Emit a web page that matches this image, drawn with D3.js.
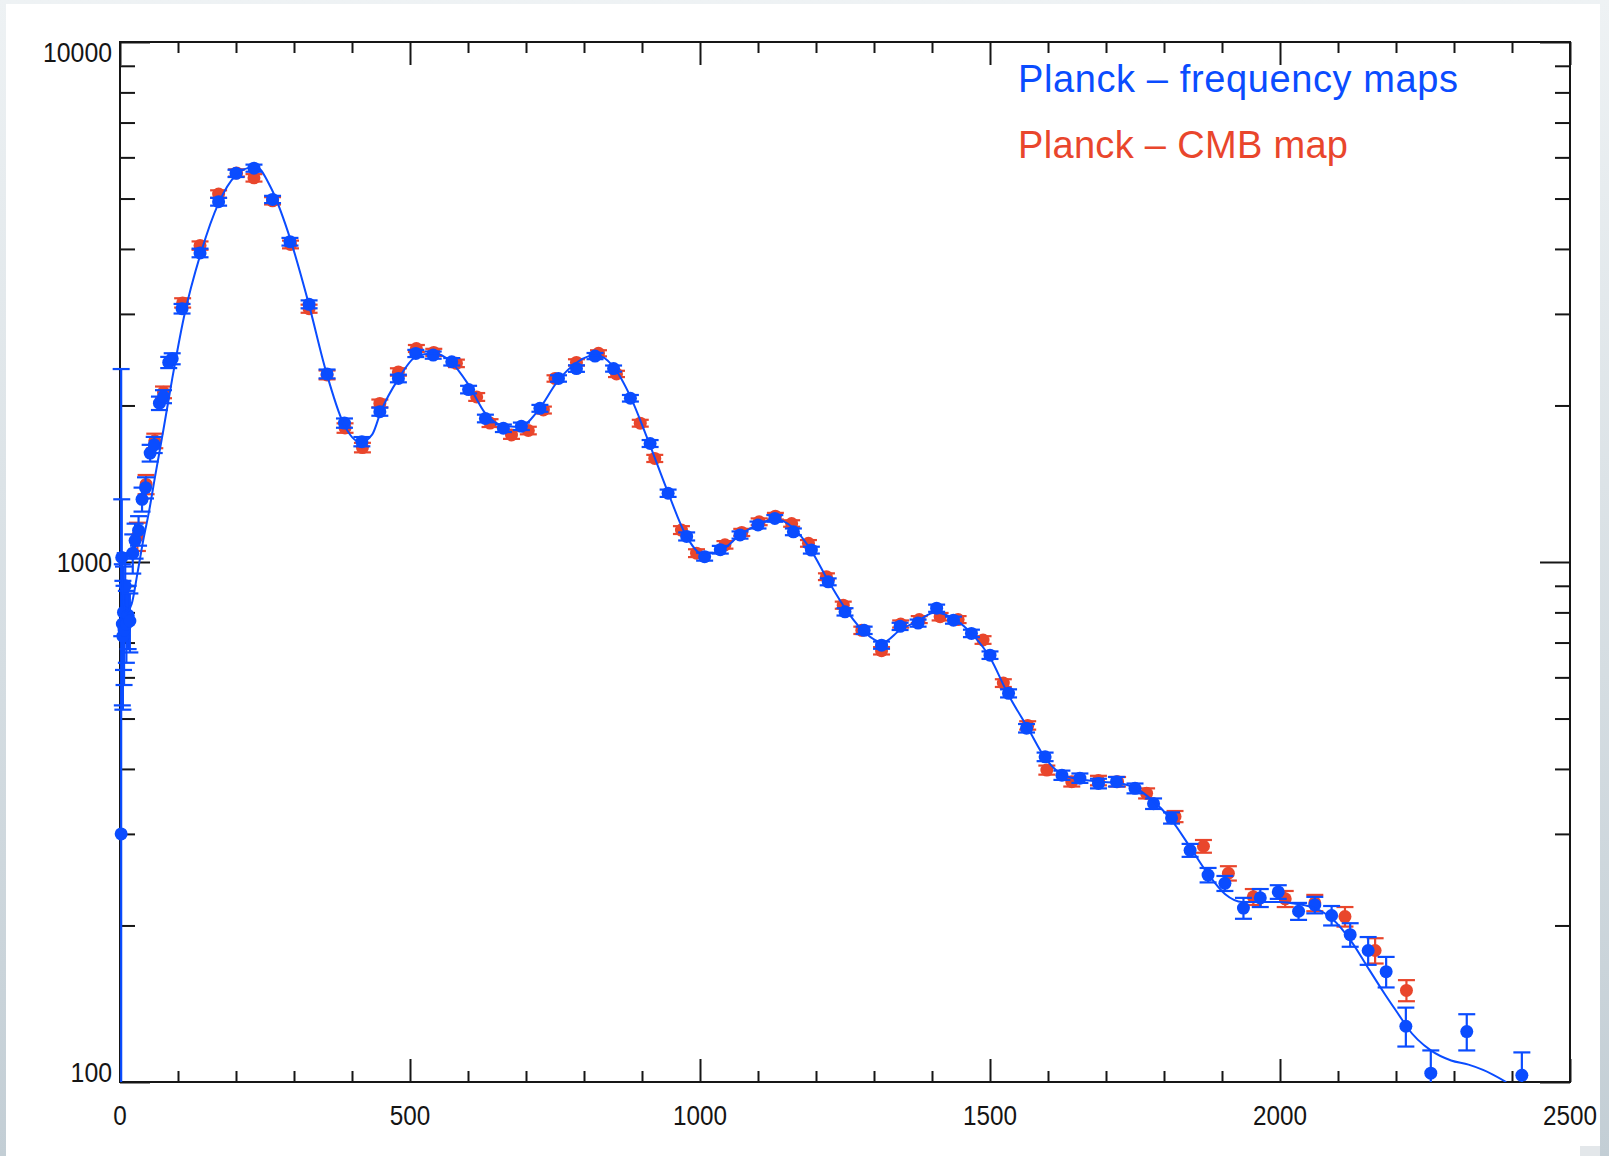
<!DOCTYPE html>
<html>
<head>
<meta charset="utf-8">
<script src="https://cdn.jsdelivr.net/npm/d3@7"></script>
<style>
  html, body { margin: 0; padding: 0; }
  body { width: 1609px; height: 1156px; overflow: hidden; background: linear-gradient(#eef2f4, #c3ced5); }
  svg { display: block; }
  .axis path { display: none; }
  .axis line { stroke: #161616; stroke-width: 2; }
  .lab { font-family: "Liberation Sans", Arial, sans-serif; fill: #151515; }
</style>
</head>
<body>
<svg id="chart"></svg>
<script>
// Planck frequency-map power spectrum (multipole, D_l, 1-sigma)
var freqEll = [2, 3, 4, 5, 6, 7, 9, 11, 14, 17, 22, 26, 32, 38, 44, 52, 59, 68, 75, 84, 90,
  107, 138, 170, 200, 231, 263, 293, 326, 357, 387, 417, 448, 480, 510, 540, 572, 601, 630,
  661, 692, 724, 756, 787, 819, 851, 880, 914, 945, 977, 1008, 1035, 1069, 1100, 1129, 1161,
  1192, 1221, 1250, 1283, 1313, 1345, 1376, 1408, 1437, 1468, 1500, 1532, 1563, 1595, 1624,
  1655, 1687, 1718, 1750, 1782, 1813, 1845, 1876, 1905, 1937, 1966, 1997, 2032, 2060, 2089,
  2121, 2152, 2183, 2217, 2260, 2322, 2417];
var freqDl = [300, 1020, 760, 720, 800, 740, 900, 760, 790, 770, 1040, 1100, 1150, 1320, 1390,
  1620, 1680, 2020, 2080, 2420, 2460,
  3070, 3930, 4930, 5590, 5720, 4980, 4130, 3130, 2300, 1850, 1704, 1946, 2254, 2518, 2500,
  2427, 2146, 1888, 1808, 1824, 1975, 2254, 2355, 2489, 2355, 2065, 1690, 1356, 1120, 1024,
  1056, 1127, 1178, 1213, 1143, 1054, 916, 802, 739, 692, 752, 763, 815, 773, 729, 662, 559,
  479, 422, 389, 384, 375, 378, 367, 343, 322, 279, 250, 241, 216, 226, 232, 213, 219, 209,
  192, 179, 163, 128, 104, 125, 103];
var freqErr = [2050, 300, 230, 200, 180, 160, 140, 120, 110, 100, 90, 85, 75, 70, 65, 60, 60,
  60, 60, 60, 60,
  65, 75, 85, 90, 90, 80, 70, 55, 45, 38, 35, 35, 38, 40, 40, 40, 36, 32, 30, 30, 30, 32, 34,
  34, 32, 30, 26, 22, 20, 18, 18, 18, 18, 18, 17, 16, 14, 13, 12, 11, 12, 12, 13, 12, 12, 11,
  10, 9, 8, 8, 8, 8, 8, 8, 8, 8, 8, 8, 8, 10, 9, 7, 8, 8, 9, 10, 11, 11, 11, 11, 10, 11];

// Planck CMB-map power spectrum
var cmbEll = [30, 45, 60, 75, 108, 138, 170, 201, 231, 263, 294, 326, 357, 388, 418, 448, 480,
  511, 541, 580, 615, 638, 675, 704, 730, 750, 787, 825, 856, 897, 922, 968, 994, 1043, 1072,
  1102, 1130, 1158, 1187, 1218, 1247, 1279, 1313, 1346, 1378, 1414, 1445, 1488, 1523, 1565,
  1598, 1641, 1687, 1720, 1770, 1819, 1868, 1911, 1954, 2009, 2060, 2112, 2164, 2218];
var cmbDl = [1120, 1410, 1710, 2120, 3150, 4060, 5100, 5600, 5480, 4950, 4080, 3070, 2290, 1810,
  1660, 2018, 2320, 2574, 2530, 2410, 2077, 1850, 1755, 1790, 1960, 2254, 2420, 2520, 2300,
  1849, 1582, 1152, 1040, 1079, 1140, 1195, 1225, 1186, 1086, 937, 826, 739, 675, 760, 775,
  785, 775, 708, 585, 485, 398, 378, 380, 378, 359, 324, 284, 252, 227, 225, 221, 208, 179, 150];
var cmbErr = [70, 60, 55, 55, 65, 75, 85, 90, 90, 80, 70, 55, 45, 38, 35, 35, 38, 40, 40, 40,
  36, 32, 30, 30, 30, 32, 34, 34, 32, 28, 25, 20, 18, 18, 18, 18, 18, 17, 16, 14, 13, 12, 11,
  12, 12, 13, 12, 12, 10, 9, 8, 8, 8, 8, 8, 8, 8, 8, 8, 8, 8, 9, 10, 7];

// best-fit model curve
var modelEll = [2, 5, 10, 20, 30, 40, 50, 60, 75, 90, 110, 140, 170, 200, 220, 235, 260, 290,
  325, 355, 385, 415, 435, 450, 480, 510, 540, 570, 600, 630, 660, 690, 720, 755, 790, 820,
  850, 880, 910, 945, 975, 1005, 1035, 1070, 1100, 1130, 1160, 1190, 1220, 1255, 1285, 1315,
  1345, 1375, 1405, 1440, 1470, 1500, 1530, 1565, 1595, 1625, 1655, 1690, 1720, 1750, 1780,
  1810, 1845, 1875, 1905, 1935, 1965, 2000, 2030, 2060, 2090, 2125, 2150, 2180, 2210, 2220,
  2260, 2295, 2325, 2350, 2390];
var modelDl = [1000, 870, 800, 830, 950, 1100, 1250, 1450, 1800, 2250, 2950, 3950, 4900, 5550,
  5720, 5750, 5250, 4300, 3150, 2330, 1850, 1700, 1760, 1950, 2250, 2480, 2520, 2430, 2200,
  1930, 1830, 1820, 1950, 2230, 2430, 2500, 2380, 2080, 1720, 1360, 1130, 1035, 1050, 1130,
  1180, 1210, 1165, 1060, 925, 800, 730, 700, 740, 770, 800, 775, 725, 655, 560, 480, 420,
  390, 382, 378, 376, 368, 348, 322, 283, 252, 230, 222, 222, 222, 220, 216, 206, 185, 167,
  148, 132, 127, 115, 110, 108, 105.5, 100];

var xTickValues = [0, 500, 1000, 1500, 2000, 2500];
var yTickValues = [100, 1000, 10000];
var legendNames = ["Planck \u2013 frequency maps", "Planck \u2013 CMB map"];

var W = 1609, H = 1156;
var box = { left: 120, right: 1570, top: 42, bottom: 1082 };
var blue = "#0a4cff", red = "#e9462c";

var svg = d3.select("#chart").attr("width", W).attr("height", H);

// white slide area
svg.append("rect").attr("x", 6).attr("y", 4).attr("width", 1594).attr("height", H - 4)
   .attr("fill", "#ffffff");
svg.append("rect").attr("x", 1580).attr("y", 1146).attr("width", 20).attr("height", 10)
   .attr("fill", "#e3e7ea");

var x = d3.scaleLinear().domain([0, 2500]).range([box.left, box.right]);
var y = d3.scaleLog().domain([100, 10000]).range([box.bottom, box.top]);

var xMinor = d3.range(0, 2501, 100).filter(function(v){ return v % 500 != 0; });
var yMinor = y.ticks().filter(function(v){ return yTickValues.indexOf(v) < 0; });

function addAxis(axis, tx, ty) {
  svg.append("g").attr("class", "axis")
     .attr("transform", "translate(" + tx + "," + ty + ")")
     .call(axis.tickFormat("").tickSizeOuter(0));
}

addAxis(d3.axisBottom(x).tickValues(xMinor).tickSizeInner(-11), 0, box.bottom);
addAxis(d3.axisBottom(x).tickValues(xTickValues).tickSizeInner(-23), 0, box.bottom);
addAxis(d3.axisTop(x).tickValues(xMinor).tickSizeInner(-11), 0, box.top);
addAxis(d3.axisTop(x).tickValues(xTickValues).tickSizeInner(-23), 0, box.top);
addAxis(d3.axisLeft(y).tickValues(yMinor).tickSizeInner(-15), box.left, 0);
addAxis(d3.axisLeft(y).tickValues(yTickValues).tickSizeInner(-30), box.left, 0);
addAxis(d3.axisRight(y).tickValues(yMinor).tickSizeInner(-15), box.right, 0);
addAxis(d3.axisRight(y).tickValues(yTickValues).tickSizeInner(-30), box.right, 0);

svg.append("rect").attr("x", box.left).attr("y", box.top)
   .attr("width", box.right - box.left).attr("height", box.bottom - box.top)
   .attr("fill", "none").attr("stroke", "#161616").attr("stroke-width", 2);

// tick labels
svg.selectAll("text.xlab").data(xTickValues).enter().append("text")
   .attr("class", "lab xlab")
   .attr("x", function(d){ return x(d); })
   .attr("y", 1125)
   .attr("text-anchor", "middle")
   .attr("font-size", 27)
   .attr("textLength", function(d){ return String(d).length * 13.5; })
   .attr("lengthAdjust", "spacingAndGlyphs")
   .text(function(d){ return d; });

svg.selectAll("text.ylab").data(yTickValues).enter().append("text")
   .attr("class", "lab ylab")
   .attr("x", 112)
   .attr("y", function(d){
     var c = Math.max(box.top + 10, Math.min(box.bottom - 10, y(d)));
     return c + 10;
   })
   .attr("text-anchor", "end")
   .attr("font-size", 27)
   .attr("textLength", function(d){ return String(d).length * 13.8; })
   .attr("lengthAdjust", "spacingAndGlyphs")
   .text(function(d){ return d; });

svg.append("defs").append("clipPath").attr("id", "plotClip")
   .append("rect").attr("x", box.left).attr("y", box.top)
   .attr("width", box.right - box.left).attr("height", box.bottom - box.top);

function yClamp(v) {
  if (!(v > 0)) return box.bottom;
  return Math.max(box.top, Math.min(box.bottom, y(v)));
}

function drawSeries(ell, dl, err, colour) {
  var pts = ell.map(function(l, i){ return { l: l, v: dl[i], e: err[i] }; });
  var g = svg.append("g");
  var cap = 8.5;
  var bars = g.selectAll("g").data(pts).enter().append("g")
              .attr("stroke", colour).attr("stroke-width", 2.2);
  bars.append("line")
      .attr("x1", function(d){ return x(d.l); }).attr("x2", function(d){ return x(d.l); })
      .attr("y1", function(d){ return yClamp(d.v + d.e); })
      .attr("y2", function(d){ return yClamp(d.v - d.e); });
  bars.append("line")
      .attr("x1", function(d){ return x(d.l) - cap; }).attr("x2", function(d){ return x(d.l) + cap; })
      .attr("y1", function(d){ return yClamp(d.v + d.e); })
      .attr("y2", function(d){ return yClamp(d.v + d.e); });
  bars.filter(function(d){ return d.v - d.e > 100; }).append("line")
      .attr("x1", function(d){ return x(d.l) - cap; }).attr("x2", function(d){ return x(d.l) + cap; })
      .attr("y1", function(d){ return yClamp(d.v - d.e); })
      .attr("y2", function(d){ return yClamp(d.v - d.e); });
  g.selectAll("circle").data(pts).enter().append("circle")
   .attr("cx", function(d){ return x(d.l); })
   .attr("cy", function(d){ return y(d.v); })
   .attr("r", 6.5)
   .attr("fill", colour);
}

drawSeries(cmbEll, cmbDl, cmbErr, red);
drawSeries(freqEll, freqDl, freqErr, blue);

var model = modelEll.map(function(l, i){ return [l, modelDl[i]]; });
var line = d3.line()
             .x(function(d){ return x(d[0]); })
             .y(function(d){ return y(d[1]); })
             .curve(d3.curveMonotoneX);

svg.append("path")
   .attr("clip-path", "url(#plotClip)")
   .attr("d", line(model))
   .attr("fill", "none")
   .attr("stroke", blue)
   .attr("stroke-width", 2);

// legend
svg.selectAll("text.leg").data(legendNames).enter().append("text")
   .attr("class", "leg")
   .attr("x", 1018)
   .attr("y", function(d, i){ return 92 + i * 66; })
   .attr("font-family", "'Liberation Sans', Arial, sans-serif")
   .attr("font-size", 38)
   .attr("fill", function(d, i){ return i == 0 ? blue : red; })
   .attr("textLength", function(d, i){ return i == 0 ? 440 : 330; })
   .attr("lengthAdjust", "spacing")
   .text(function(d){ return d; });
</script>
</body>
</html>
